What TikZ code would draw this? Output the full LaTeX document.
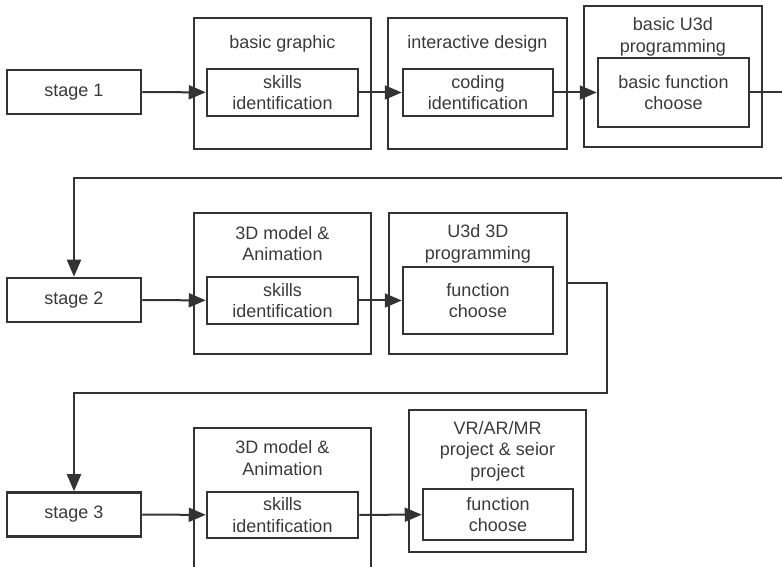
\documentclass[tikz,border=0pt]{standalone}
\usepackage{fontspec}
\setmainfont{Liberation Sans}
\usepackage{xcolor}
\usetikzlibrary{arrows.meta}

\definecolor{linegray}{HTML}{333333}
\definecolor{textgray}{HTML}{3A3A3A}

\begin{document}
\begin{tikzpicture}[x=1pt,y=1pt,>={Triangle[length=17pt,width=14pt]},
    every node/.style={font=\fontsize{18}{21.5}\selectfont,text=textgray,align=center},
    stagebox/.style={draw=linegray,line width=2.5pt,minimum width=134pt,minimum height=44pt,inner sep=0pt},
    outerbox/.style={draw=linegray,line width=2.5pt,minimum width=177pt,inner sep=0pt},
    innerbox/.style={draw=linegray,line width=2.5pt,minimum width=151pt,inner sep=0pt},
    link/.style={draw=linegray,line width=2pt}]
            \clip (0,0) rectangle (782,567);
            % row 1
            \node[stagebox] (stage1) at (74,475) {stage 1};
            \node[outerbox,minimum height=131pt] (outer11) at (282.5,483.5) {};
            \node[outerbox,minimum height=131pt,minimum width=179pt] (outer12) at (477.5,483.5) {};
            \node[outerbox,minimum height=141pt,minimum width=178pt] (outer13) at (673,490.5) {};
            \node (title11) at (282.5,523) {basic graphic};
            \node (title12) at (477.5,523) {interactive design};
            \node (title13) at (673,530) {basic U3d\\programming};
            \node[innerbox,minimum height=47pt] (inner11) at (282.5,474.5) {skills\\identification};
            \node[innerbox,minimum height=47pt,minimum width=150pt] (inner12) at (478,474.5) {coding\\identification};
            \node[innerbox,minimum height=69pt] (inner13) at (673.5,474.5) {basic function\\choose};
            % row 2
            \node[stagebox] (stage2) at (74,267) {stage 2};
            \node[outerbox,minimum height=141pt] (outer21) at (282.5,283.5) {};
            \node[outerbox,minimum height=141pt,minimum width=178pt] (outer22) at (478,283.5) {};
            \node (title21) at (282.5,323.5) {3D model \&\\Animation};
            \node (title22) at (478,323) {U3d 3D\\programming};
            \node[innerbox,minimum height=47pt] (inner21) at (282.5,266.5) {skills\\identification};
            \node[innerbox,minimum height=67pt,minimum width=150pt] (inner22) at (478,266.5) {function\\choose};
            % row 3
            \node[stagebox] (stage3) at (74,52.5) {stage 3};
            \node[outerbox,minimum height=149pt] (outer31) at (282.5,64.5) {};
            \node[outerbox,minimum height=142pt] (outer32) at (497.5,86) {};
            \node (title31) at (282.5,109) {3D model \&\\Animation};
            \node (title32) at (497.5,116) {VR/AR/MR\\project \& seior\\project};
            \node[innerbox,minimum height=46pt] (inner31) at (282.5,52) {skills\\identification};
            \node[innerbox,minimum height=51pt,minimum width=150pt] (inner32) at (498,52.5) {function\\choose};
            % connectors
            \coordinate (edgeA) at (800,389);
            \coordinate (bendB) at (607,174);
            \draw[link,->] (stage1) -- (inner11);
            \draw[link,->] (inner11) -- (inner12);
            \draw[link,->] (inner12) -- (inner13);
            \draw[link,->] (inner13.east) -| (edgeA) -| (stage2.north);
            \draw[link,->] (stage2) -- (inner21);
            \draw[link,->] (inner21) -- (inner22);
            \draw[link,->] (outer22.east) -| (bendB) -| (stage3.north);
            \draw[link,->] (stage3) -- (inner31);
            \draw[link,->] (inner31) -- (inner32);
      \end{tikzpicture}
\end{document}
